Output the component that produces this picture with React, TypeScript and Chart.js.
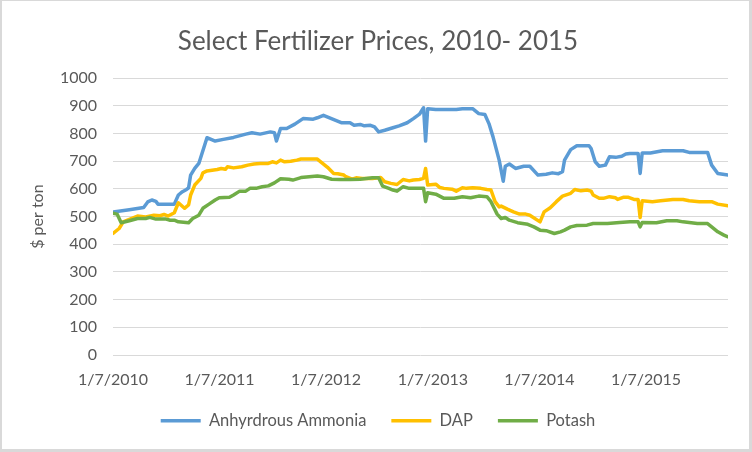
import React, { useEffect, useRef } from "react";
import { Chart, registerables } from "chart.js";

Chart.register(...registerables);

// ---- data ----
const chartTitle = "Select Fertilizer Prices, 2010- 2015";
const yAxisTitle = "$ per ton";
const startDate = "2010-01-07"; // week 0
const lastWeek = 301;
const tickDates = ["2010-01-07", "2011-01-07", "2012-01-07", "2013-01-07", "2014-01-07", "2015-01-07"];
const tickLabels = ["1/7/2010", "1/7/2011", "1/7/2012", "1/7/2013", "1/7/2014", "1/7/2015"];
const seriesNames = ["Anhyrdrous Ammonia", "DAP", "Potash"];
const seriesColors = ["#5B9BD5", "#FFC000", "#70AD47"];

// [week since 1/7/2010, $ per ton]
const ammonia: [number, number][] = [
  [0, 517], [8, 525], [15, 533], [17, 553], [19, 560], [21, 555], [22, 545], [30, 545], [32, 578], [34, 590],
  [36, 598], [37, 604], [38, 650], [40, 674], [42, 692], [46, 785], [50, 773], [54, 779], [59, 786], [65, 798],
  [68, 803], [72, 798], [77, 806], [79, 803], [80, 773], [82, 818], [85, 818], [89, 834], [93, 854], [98, 852],
  [100, 857], [103, 866], [106, 857], [109, 848], [112, 839], [116, 839], [118, 830], [121, 833], [123, 828], [126, 830],
  [128, 824], [130, 806], [133, 812], [137, 821], [140, 828], [144, 839], [147, 854], [150, 870], [152, 893], [153, 773],
  [154, 890], [158, 887], [168, 887], [171, 890], [176, 890], [179, 872], [182, 869], [184, 836], [186, 788], [189, 704],
  [191, 628], [192, 682], [194, 690], [197, 674], [201, 682], [204, 682], [208, 650], [212, 653], [215, 658], [218, 655],
  [220, 662], [221, 704], [224, 742], [227, 756], [233, 756], [234, 746], [236, 698], [238, 682], [241, 686], [243, 716],
  [246, 714], [249, 718], [251, 726], [253, 728], [257, 728], [258, 656], [259, 730], [263, 730], [269, 738], [279, 738],
  [282, 732], [291, 732], [293, 686], [296, 656], [301, 650],
];

const dap: [number, number][] = [
  [0, 439], [3, 457], [5, 481], [8, 490], [12, 502], [16, 499], [20, 505], [23, 503], [25, 508], [27, 502],
  [30, 514], [32, 550], [35, 530], [37, 542], [38, 578], [40, 614], [43, 638], [44, 658], [46, 665], [51, 670],
  [53, 674], [55, 671], [56, 680], [59, 676], [63, 680], [66, 686], [69, 690], [72, 692], [76, 692], [78, 698],
  [80, 694], [82, 704], [84, 698], [87, 700], [90, 704], [92, 708], [100, 708], [105, 678], [108, 656], [110, 655],
  [113, 650], [114, 644], [117, 635], [119, 640], [122, 638], [127, 638], [131, 641], [133, 626], [136, 620], [139, 616],
  [142, 634], [145, 629], [147, 632], [150, 634], [152, 638], [153, 674], [154, 614], [158, 617], [160, 605], [162, 602],
  [166, 599], [168, 592], [171, 604], [173, 602], [176, 604], [180, 602], [183, 598], [185, 596], [187, 554], [189, 535],
  [190, 538], [193, 527], [196, 517], [199, 509], [202, 509], [204, 505], [209, 481], [211, 517], [214, 532], [217, 554],
  [220, 574], [224, 584], [226, 598], [229, 593], [232, 596], [234, 592], [235, 578], [238, 566], [240, 566], [243, 572],
  [246, 568], [247, 562], [250, 570], [252, 570], [255, 562], [257, 562], [258, 497], [259, 557], [264, 554], [268, 557],
  [274, 562], [279, 562], [282, 557], [287, 554], [293, 554], [296, 545], [301, 539],
];

const potash: [number, number][] = [
  [0, 512], [2, 509], [4, 478], [8, 485], [12, 493], [16, 493], [18, 497], [21, 491], [26, 491], [28, 487],
  [30, 487], [32, 481], [37, 478], [39, 493], [42, 505], [44, 530], [47, 545], [50, 560], [52, 568], [57, 570],
  [59, 578], [62, 592], [65, 592], [67, 602], [70, 602], [73, 608], [76, 611], [79, 622], [82, 637], [86, 635],
  [88, 632], [92, 641], [96, 644], [100, 647], [103, 644], [107, 635], [111, 634], [116, 634], [121, 635], [127, 640],
  [130, 640], [132, 610], [135, 602], [137, 596], [139, 592], [142, 608], [145, 602], [152, 602], [153, 554], [154, 586],
  [158, 581], [162, 566], [167, 566], [171, 572], [175, 568], [179, 574], [183, 572], [185, 554], [188, 509], [190, 493],
  [192, 497], [194, 487], [198, 478], [203, 472], [206, 463], [209, 451], [212, 449], [216, 439], [219, 445], [221, 451],
  [224, 463], [227, 468], [232, 469], [235, 475], [242, 475], [248, 479], [253, 481], [257, 481], [258, 463], [259, 479],
  [266, 478], [271, 485], [276, 485], [279, 481], [286, 475], [291, 475], [293, 463], [296, 445], [299, 433], [301, 427],
];

const yMin = 0;
const yMax = 1000;
const yStep = 100;

// ---- helpers ----
const DAY_MS = 86400000;
const dayOffset = (iso: string) => Math.round((Date.parse(iso) - Date.parse(startDate)) / DAY_MS);
const toPoints = (s: [number, number][]) => s.map(([w, v]) => ({ x: w * 7, y: v }));

const FONT = "Lato, 'Open Sans', sans-serif";
const TEXT = "#595959";
const GRID = "#d9d9d9";

export default function App() {
  const ref = useRef<HTMLCanvasElement>(null);

  useEffect(() => {
    document.body.style.margin = "0";
    const tickDays = tickDates.map(dayOffset);
    const series = [ammonia, dap, potash];
    const chart = new Chart(ref.current as HTMLCanvasElement, {
      type: "line",
      data: {
        datasets: series.map((s, i) => ({
          label: seriesNames[i],
          data: toPoints(s),
          borderColor: seriesColors[i],
          backgroundColor: seriesColors[i],
          borderWidth: 3.5,
          pointRadius: 0,
          pointHoverRadius: 0,
          tension: 0,
          fill: false,
          borderJoinStyle: "round" as const,
          borderCapStyle: "round" as const,
          pointStyle: "line" as const,
          order: series.length - i,
        })),
      },
      options: {
        responsive: false,
        animation: false,
        devicePixelRatio: 1,
        layout: { padding: { left: 26, right: 21, top: 0, bottom: 10 } },
        plugins: {
          title: {
            display: true,
            text: chartTitle,
            color: TEXT,
            font: { family: FONT, size: 26, weight: "normal" },
            padding: { top: 25, bottom: 21 },
          },
          legend: {
            display: true,
            position: "bottom",
            labels: {
              color: TEXT,
              font: { family: FONT, size: 16.5 },
              usePointStyle: true,
              pointStyleWidth: 40,
              boxHeight: 16.5,
              padding: 25,
              sort: (a: any, b: any) => a.datasetIndex - b.datasetIndex,
            },
          },
          tooltip: { enabled: false },
        },
        scales: {
          x: {
            type: "linear",
            min: 0,
            max: lastWeek * 7,
            grid: { display: false, drawTicks: false },
            border: { display: false },
            afterBuildTicks: (scale: any) => {
              scale.ticks = tickDays.map((v) => ({ value: v }));
            },
            afterFit: (scale: any) => {
              scale.height = 32.5;
            },
            ticks: {
              autoSkip: false,
              maxRotation: 0,
              minRotation: 0,
              padding: 15,
              color: TEXT,
              font: { family: FONT, size: 16 },
              callback: (value: any) => {
                const idx = tickDays.indexOf(Number(value));
                return idx >= 0 ? tickLabels[idx] : "";
              },
            },
          },
          y: {
            min: yMin,
            max: yMax,
            grid: { color: GRID, lineWidth: 1, drawTicks: false },
            border: { display: false },
            afterFit: (scale: any) => {
              scale.width = 85;
            },
            ticks: {
              stepSize: yStep,
              padding: 16,
              color: TEXT,
              font: { family: FONT, size: 16 },
              callback: (value: any) => String(value),
            },
            title: {
              display: true,
              text: yAxisTitle,
              color: TEXT,
              font: { family: FONT, size: 16 },
              padding: { top: 0, bottom: 0 },
            },
          },
        },
      } as any,
    });
    return () => chart.destroy();
  }, []);

  return (
    <div style={{ position: "relative", width: 752, height: 452, background: "#d9d9d9" }}>
      <div style={{ position: "absolute", left: 2, top: 1, width: 747, height: 448, background: "#ffffff" }}>
        <canvas ref={ref} width={747} height={448} style={{ display: "block", width: 747, height: 448 }} />
      </div>
    </div>
  );
}
